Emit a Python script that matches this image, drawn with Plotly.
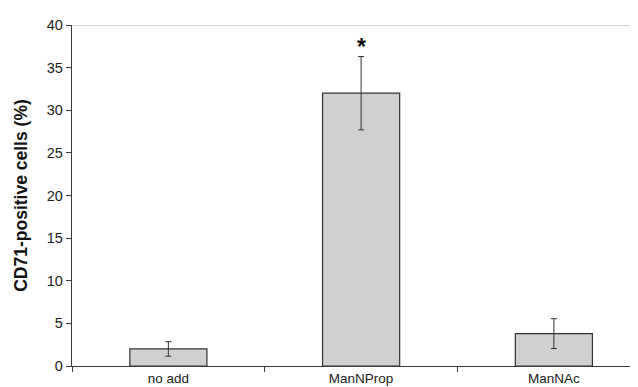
import plotly.graph_objects as go

categories = ["no add", "ManNProp", "ManNAc"]
means = [2.0, 32.0, 3.8]
errors = [0.85, 4.3, 1.75]
significance = ["", "*", ""]
y_ticks = [0, 5, 10, 15, 20, 25, 30, 35, 40]

FONT = "Liberation Sans, Arial, Helvetica, sans-serif"
AXIS_COL = "#3a3a3a"

fig = go.Figure()
fig.add_trace(go.Bar(
    x=categories, y=means, width=0.4,
    marker=dict(color="#d0d0d0", line=dict(color="#333333", width=1.2)),
    error_y=dict(type="data", array=errors, visible=True,
                 color="#333333", thickness=1, width=3),
))

for c, m, e, s in zip(categories, means, errors, significance):
    if s:
        fig.add_annotation(x=c, y=m + e, text="<b>" + s + "</b>", showarrow=False,
                           yanchor="bottom", yshift=-5,
                           font=dict(family=FONT, size=23, color="#111111"))

fig.add_shape(type="line", xref="paper", yref="y", x0=0, x1=1,
              y0=y_ticks[-1], y1=y_ticks[-1],
              line=dict(color="#c4c4c4", width=1.5), layer="below")

fig.update_layout(
    width=638, height=387,
    margin=dict(l=64, r=0, t=17, b=29),
    paper_bgcolor="white", plot_bgcolor="white",
    showlegend=False,
    font=dict(family=FONT, size=13.5, color="#222222"),
    bargap=0.6,
)
fig.update_xaxes(
    range=[-0.5, 2.478], showline=True, linecolor=AXIS_COL, linewidth=1.3,
    ticks="outside", tickson="boundaries", ticklen=5, tickcolor=AXIS_COL,
    showgrid=False, zeroline=False, tickfont=dict(size=13.5),
)
fig.update_yaxes(
    range=[0, 40], tickvals=y_ticks, showline=True, linecolor=AXIS_COL,
    linewidth=1.3, ticks="outside", ticklen=5, tickcolor=AXIS_COL,
    showgrid=False, zeroline=False, tickfont=dict(size=14.5),
    title=dict(text="<b>CD71-positive cells (%)</b>", standoff=14,
               font=dict(size=17.5, color="#111111")),
)

fig.write_html("out.html")
